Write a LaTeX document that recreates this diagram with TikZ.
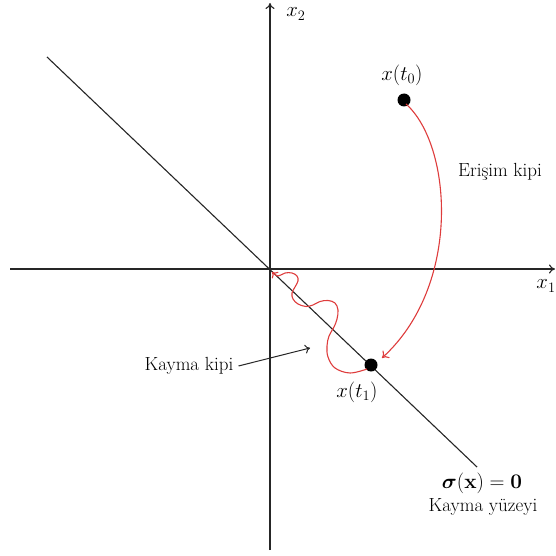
\documentclass[tikz,border=0pt]{standalone}
\usepackage{amsmath,bm}
\usetikzlibrary{arrows.meta}
\definecolor{trajred}{RGB}{222,60,60}
\begin{document}
\begin{tikzpicture}[x=1pt,y=-1pt,
  axis/.style={line width=1.1pt,black!85,-{To[length=6pt,width=9pt]}},
  surf/.style={line width=1.1pt,black!85},
  traj/.style={line width=1.1pt,trajred},
  dot/.style={circle,fill=black,inner sep=0pt,minimum size=13pt},
  lbl/.style={font=\fontsize{19}{23}\selectfont,inner sep=1pt},
  mlbl/.style={font=\fontsize{21}{25}\selectfont,inner sep=1pt}]
\useasboundingbox (0,0) rectangle (555,556);
% axes
\coordinate (xl) at (10,269);
\coordinate (xr) at (555,269);
\coordinate (yb) at (270,550);
\coordinate (yt) at (270,3);
\draw[axis] (xl) -- (xr);
\draw[axis] (yb) -- (yt);
\node[mlbl] (lx1) at (546,286) {$x_1$};
\node[mlbl] (lx2) at (296,14) {$x_2$};
% sliding surface
\coordinate (s1) at (47,57);
\coordinate (s2) at (477,467);
\draw[surf] (s1) -- (s2);
% points
\node[dot] (p0) at (404,100) {};
\node[dot] (p1) at (371,365) {};
\node[mlbl] (lt0) at (402,75) {$x(t_0)$};
\node[mlbl] (lt1) at (357,392) {$x(t_1)$};
% reaching phase
\draw[traj,-{To[length=6pt,width=10pt]}] (p0.center) ++(2,4) .. controls (452,145) and (462,285) .. (382,358);
\node[lbl] (er) at (500,172) {Eri\c{s}im kipi};
% sliding phase
\draw[traj,-{To[length=5pt,width=9pt]}] plot[smooth,tension=0.6] coordinates {
 (367,369) (350,373) (335,368) (328,357) (327,346) (329,336) (334,327) (337,319) (338,310) (335,303) (328,300.5) (320,301.5) (313,305) (306,306.5) (298,304) (293,299) (292,293) (295,287) (298,281) (297,276) (292,273) (285,273) (278,276) (272,272)};
\node[lbl] (kk) at (189,366) {Kayma kipi};
\draw[line width=1pt,black!85,-{To[length=5pt,width=9pt]}] (kk.east) ++(4,0) -- (310,348);
% surface labels
\node[mlbl] (sig) at (482,483) {$\bm{\sigma}(\mathbf{x})=\mathbf{0}$};
\node[lbl] (ky) at (483,507) {Kayma y\"uzeyi};
\end{tikzpicture}
\end{document}
